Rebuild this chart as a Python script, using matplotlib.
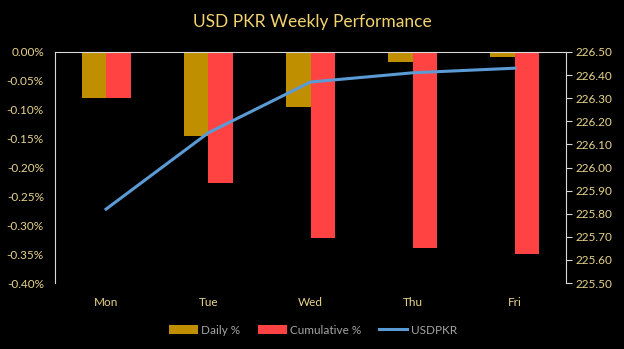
import matplotlib.pyplot as plt
import numpy as np

plt.rcParams['font.family'] = ['Lato', 'DejaVu Sans']

days = ['Mon', 'Tue', 'Wed', 'Thu', 'Fri']
daily_pct = [-0.080, -0.146, -0.096, -0.018, -0.009]
cumulative_pct = [-0.080, -0.226, -0.322, -0.340, -0.349]
usdpkr = [225.82, 226.15, 226.37, 226.41, 226.43]

gold = '#BF8F00'
red = '#FF4343'
blue = '#5B9BD5'
label_col = '#E8D48C'
bg = 'black'

fig = plt.figure(figsize=(6.24, 3.49), dpi=100, facecolor=bg)
ax = fig.add_axes([55 / 624, 1 - 283 / 349, 511 / 624, 231 / 349])
ax.set_facecolor(bg)

x = np.arange(len(days))
w = 0.24
b1 = ax.bar(x - w / 2, daily_pct, w, color=gold, label='Daily %', zorder=2)
b2 = ax.bar(x + w / 2, cumulative_pct, w, color=red, label='Cumulative %', zorder=2)

left_ticks = np.round(np.arange(-0.40, 0.001, 0.05), 2)
ax.set_xlim(-0.5, len(days) - 0.5)
ax.set_ylim(-0.40, 0.0)
ax.set_yticks(left_ticks)
ax.set_yticklabels([f'{abs(v):.2f}%' if v == 0 else f'{v:.2f}%' for v in left_ticks])
ax.set_xticks(x)
ax.set_xticklabels(days)
ax.tick_params(axis='y', length=0, colors=label_col, labelsize=8.5, pad=8)
ax.tick_params(axis='x', length=0, colors=label_col, labelsize=8.5, pad=10)

for s in ['bottom', 'right']:
    ax.spines[s].set_visible(False)
ax.spines['left'].set_color('#D9D9D9')
ax.spines['top'].set_color('#D9D9D9')
ax.spines['left'].set_linewidth(0.8)
ax.spines['top'].set_linewidth(0.8)

ax2 = ax.twinx()
ln, = ax2.plot(x, usdpkr, color=blue, lw=2.2, label='USDPKR', zorder=3)
right_ticks = np.round(np.arange(225.50, 226.501, 0.10), 2)
ax2.set_ylim(225.50, 226.50)
ax2.set_yticks(right_ticks)
ax2.set_yticklabels([f'{v:.2f}' for v in right_ticks])
ax2.tick_params(axis='y', direction='out', length=4, color='#D9D9D9',
                labelcolor=label_col, labelsize=8.5, pad=3)
for s in ['bottom', 'left', 'top']:
    ax2.spines[s].set_visible(False)
ax2.spines['right'].set_color('#D9D9D9')
ax2.spines['right'].set_linewidth(0.8)

fig.text(0.5, 1 - 22 / 349, 'USD PKR Weekly Performance', ha='center', va='center',
         color='#F2D36E', fontsize=12.5)

fig.legend(handles=[b1, b2, ln], labels=['Daily %', 'Cumulative %', 'USDPKR'],
           loc='center', bbox_to_anchor=(0.502, 1 - 330 / 349), ncol=3,
           frameon=False, fontsize=8.5, labelcolor='#A6A6A6',
           handlelength=2.4, handleheight=0.7, columnspacing=1.5,
           handletextpad=0.3)

fig.savefig('out.png', dpi=100, facecolor=bg)
